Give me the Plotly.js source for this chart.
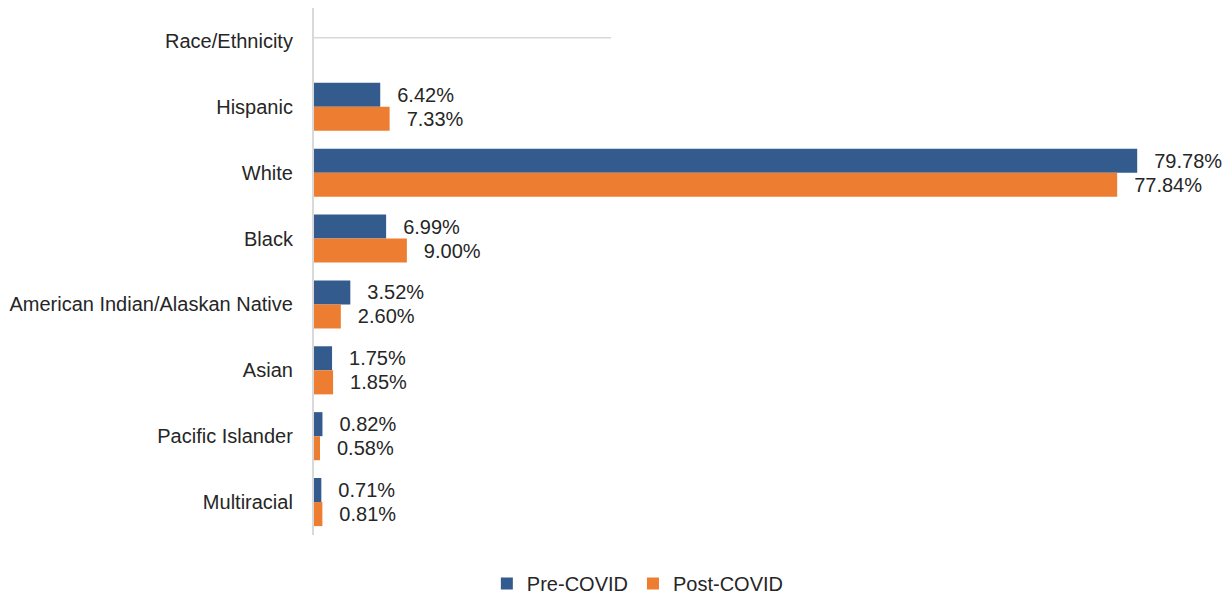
<!DOCTYPE html>
<html>
<head>
<meta charset="utf-8">
<script src="https://cdn.plot.ly/plotly-3.0.1.min.js"></script>
<style>
  html, body { margin: 0; padding: 0; background: #fff; }
  #chart { width: 1229px; height: 603px; }
</style>
</head>
<body>
<div id="chart"></div>
<script>
// Share of population by race/ethnicity, before and after COVID
const categories = [
  'Race/Ethnicity',
  'Hispanic',
  'White',
  'Black',
  'American Indian/Alaskan Native',
  'Asian',
  'Pacific Islander',
  'Multiracial'
];
const preCovid  = [null, 6.42, 79.78, 6.99, 3.52, 1.75, 0.82, 0.71];
const postCovid = [null, 7.33, 77.84, 9.00, 2.60, 1.85, 0.58, 0.81];
const seriesNames = ['Pre-COVID', 'Post-COVID'];
const seriesColors = ['#335b8e', '#ed7d31'];

const FONT = '"Liberation Sans Narrow", "Arial Narrow", "Liberation Sans", Arial, sans-serif';

function barTrace(values, name, color) {
  return {
    type: 'bar',
    orientation: 'h',
    y: categories,
    x: values,
    name: name,
    marker: { color: color },
    // en space + thin space keeps the value a little away from the bar end
    text: values.map(v => v == null ? '' : '\u2002\u2009' + v.toFixed(2) + '%'),
    textposition: 'outside',
    textfont: { family: FONT, size: 20, color: '#262626' },
    cliponaxis: false,
    hoverinfo: 'x+name'
  };
}

const data = [
  barTrace(preCovid, seriesNames[0], seriesColors[0]),
  barTrace(postCovid, seriesNames[1], seriesColors[1])
];

const layout = {
  width: 1229,
  height: 603,
  margin: { l: 314, r: 40, t: 8, b: 68, autoexpand: false },
  paper_bgcolor: '#ffffff',
  plot_bgcolor: '#ffffff',
  barmode: 'group',
  bargap: 0.27,
  bargroupgap: 0,
  font: { family: FONT, size: 20, color: '#262626' },
  xaxis: {
    range: [0, 84.8],
    visible: false,
    showgrid: false,
    zeroline: false
  },
  yaxis: {
    type: 'category',
    autorange: 'reversed',
    showline: true,
    linecolor: '#d9d9d9',
    linewidth: 2,
    showgrid: false,
    ticks: '',
    ticksuffix: '  ',
    ticklabelstandoff: 4,
    tickfont: { family: FONT, size: 20, color: '#262626' }
  },
  shapes: [{
    // thin rule beside the header row
    type: 'line',
    xref: 'x', yref: 'y',
    x0: 0, x1: 28.8,
    y0: -0.05, y1: -0.05,
    line: { color: '#d9d9d9', width: 1.5 }
  }],
  showlegend: true,
  legend: {
    orientation: 'h',
    xref: 'container', yref: 'container',
    x: 0.519, xanchor: 'center',
    y: 0.0, yanchor: 'bottom',
    font: { family: FONT, size: 20, color: '#262626' },
    itemwidth: 30,
    traceorder: 'normal'
  }
};

Plotly.newPlot('chart', data, layout, { displayModeBar: false, staticPlot: true });
</script>
</body>
</html>
